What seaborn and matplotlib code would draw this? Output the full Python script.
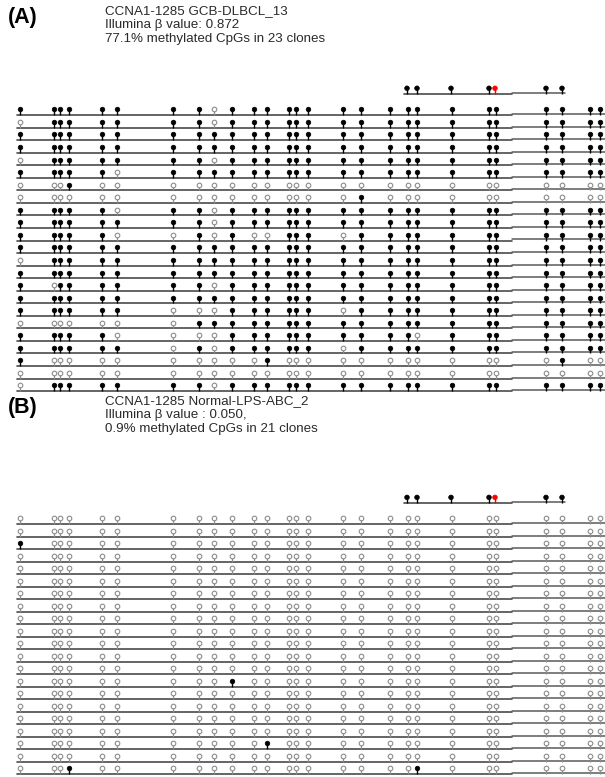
import pandas as pd
import matplotlib
matplotlib.use("Agg")
import matplotlib.pyplot as plt
import seaborn as sns

# --- Data ---
# CpG positions along the amplicon (relative units)
cpg_pos = [20, 54, 60, 69, 102, 117, 173, 199, 214, 232, 254, 267, 289, 296,
           308, 343, 361, 390, 408, 417, 452, 489, 496, 546, 562, 590, 600]
# reference CpGs shown above each panel (index 4 is the Illumina probe CpG)
ref_pos = [407, 417, 451, 489, 495, 546, 562]
ref_probe = 4

# panel A: one string per clone, 1 = methylated, 0 = unmethylated
meth_a = [
    "111111110111111111111111111",
    "011111110111111111111111111",
    "111111111111111111111111111",
    "111111111111111111111111111",
    "011111110111111111111111111",
    "111110111111111111111111111",
    "000100000000000000000000000",
    "000000000000000010000000000",
    "111110110111111111111111111",
    "111111110111111111111111111",
    "111110010100111011111111111",
    "111111111111111111111111111",
    "011111111111111111111111111",
    "111111111111111111111111111",
    "101111110111111111111111111",
    "111111111111111111111111111",
    "111111000111111011111111111",
    "000000011111111111111111111",
    "111110000111111111101111111",
    "111111010111111011111111111",
    "100000000001000000000000100",
    "000000000000000000000000000",
    "011111110111111111111111111",
]

# panel B: 21 clones, almost all unmethylated; methylated sites listed here
n_clones_b = 21
meth_b_clone = [2, 13, 18, 20, 20]
meth_b_cpg = [0, 9, 11, 3, 19]

title_a = ["CCNA1-1285 GCB-DLBCL_13", "Illumina \u03b2 value: 0.872",
           "77.1% methylated CpGs in 23 clones"]
title_b = ["CCNA1-1285 Normal-LPS-ABC_2", "Illumina \u03b2 value : 0.050,",
           "0.9% methylated CpGs in 21 clones"]

# --- Build long tables ---
rows = []
for c, s in enumerate(meth_a):
    for j, ch in enumerate(s):
        rows.append({"clone": c, "pos": cpg_pos[j], "meth": int(ch)})
df_a = pd.DataFrame(rows)

rows = []
meth_set = set(zip(meth_b_clone, meth_b_cpg))
for c in range(n_clones_b):
    for j, p in enumerate(cpg_pos):
        rows.append({"clone": c, "pos": p, "meth": int((c, j) in meth_set)})
df_b = pd.DataFrame(rows)

sns.set_theme(style="white")
plt.rcParams["font.family"] = ["Liberation Sans", "DejaVu Sans"]

W, H = 605, 777
fig = plt.figure(figsize=(W / 100, H / 100), dpi=100)

STEM = 0.45
LINE_COL = "#4a4a4a"
OPEN_COL = "#8c8c8c"
SPLIT = 512


def lollipops(ax, df):
    filled = df[df.meth == 1]
    empty = df[df.meth == 0]
    ax.vlines(empty.pos, empty.clone, empty.clone - STEM + 0.12, colors=OPEN_COL, lw=0.9, zorder=2)
    ax.vlines(filled.pos, filled.clone, filled.clone - STEM, colors="black", lw=1.0, zorder=2)
    head = df.assign(head=df.clone - STEM)
    sns.scatterplot(data=head[head.meth == 0], x="pos", y="head", ax=ax, s=11,
                    color="white", edgecolor=OPEN_COL, linewidth=0.8, zorder=3, legend=False)
    sns.scatterplot(data=head[head.meth == 1], x="pos", y="head", ax=ax, s=11,
                    color="black", edgecolor="black", linewidth=0.5, zorder=3, legend=False)


def draw_panel(ax, df, n_clones, ref_y, ylim):
    for c in range(n_clones):
        ax.plot([17, SPLIT], [c, c], color=LINE_COL, lw=1.2, zorder=1)
        ax.plot([SPLIT, W], [c - 0.08, c - 0.08], color="#5a5a5a", lw=1.1, zorder=1)
    lollipops(ax, df)

    # reference amplicon on top
    ax.plot([404, SPLIT], [ref_y, ref_y], color=LINE_COL, lw=1.2, zorder=1)
    ax.plot([SPLIT, 565], [ref_y - 0.08, ref_y - 0.08], color="#5a5a5a", lw=1.1, zorder=1)
    ref = pd.DataFrame({"pos": ref_pos, "clone": ref_y, "meth": 1})
    cols = ["red" if i == ref_probe else "black" for i in range(len(ref_pos))]
    ax.vlines(ref.pos, ref.clone, ref.clone - STEM, colors=cols, lw=1.0, zorder=2)
    ax.scatter(ref.pos, ref.clone - STEM, s=11, c=cols, edgecolors=cols, linewidths=0.5, zorder=3)

    ax.set_xlim(0, W)
    ax.set_ylim(*ylim)
    ax.axis("off")


# panel A: rows every 12.55 px starting at y=115
ax_a = fig.add_axes([0, (H - 400) / H, 1, 320 / H])
draw_panel(ax_a, df_a, len(meth_a), -1.68,
           ((400 - 115) / 12.55, (80 - 115) / 12.55))

# panel B: rows every 12.5 px starting at y=524
ax_b = fig.add_axes([0, 0, 1, 292 / H])
draw_panel(ax_b, df_b, n_clones_b, -1.68,
           ((777 - 524) / 12.5, (485 - 524) / 12.5))

# titles
for label, lines, y0 in [("(A)", title_a, 11), ("(B)", title_b, 401)]:
    fig.text(8 / W, 1 - (y0 + 7) / H, label, fontsize=15.5, fontweight="bold",
             va="center", ha="left", color="black")
    for i, t in enumerate(lines):
        fig.text(105 / W, 1 - (y0 + 14 * i) / H, t, fontsize=9.6,
                 va="center", ha="left", color="#2a2a2a")

fig.savefig("out.png", dpi=100)
